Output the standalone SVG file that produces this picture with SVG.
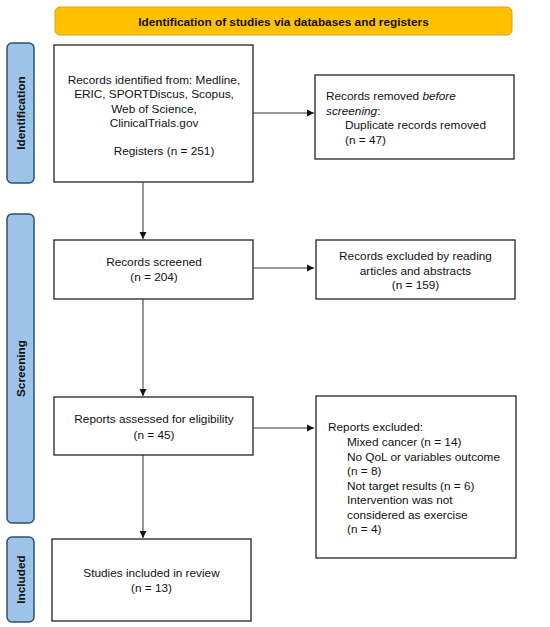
<svg xmlns="http://www.w3.org/2000/svg" width="550" height="627" viewBox="0 0 550 627">
<style>
.box{fill:#fff;stroke:#222;stroke-width:1.3}
.side{fill:#9DC3E6;stroke:#2F4F6F;stroke-width:1.5}
.t{font-family:"Liberation Sans",Arial,sans-serif;font-size:11.8px;fill:#111}
.c{text-anchor:middle}
.b{font-weight:bold}
.ln{stroke:#333;stroke-width:1;fill:none;marker-end:url(#ah)}
</style>
<defs>
<marker id="ah" markerWidth="8" markerHeight="8" refX="7" refY="4" orient="auto" markerUnits="userSpaceOnUse">
<path d="M0,0.5 L7,4 L0,7.5 Z" fill="#111"/>
</marker>
</defs>
<rect width="550" height="627" fill="#fff"/>
<g id="banner">
<rect x="55" y="7" width="457" height="28" rx="5" fill="#FFC000" stroke="#D6A21E" stroke-width="1"/>
<text class="t c b" x="283.5" y="25.5">Identification of studies via databases and registers</text>
</g>
<g id="side-identification">
<rect class="side" x="7" y="43" width="27" height="140" rx="5"/>
<text class="t c b" transform="translate(25,113) rotate(-90)">Identification</text>
</g>
<g id="side-screening">
<rect class="side" x="7" y="214" width="27" height="309" rx="5"/>
<text class="t c b" transform="translate(25,368.5) rotate(-90)">Screening</text>
</g>
<g id="side-included">
<rect class="side" x="7" y="537" width="27" height="85" rx="5"/>
<text class="t c b" transform="translate(25,579.5) rotate(-90)">Included</text>
</g>
<g id="connectors">
<line class="ln" x1="253" y1="113" x2="314" y2="113"/>
<line class="ln" x1="143" y1="182" x2="143" y2="239"/>
<line class="ln" x1="253" y1="268" x2="314" y2="268"/>
<line class="ln" x1="143" y1="299" x2="143" y2="396"/>
<line class="ln" x1="253" y1="428" x2="314" y2="428"/>
<line class="ln" x1="143" y1="455" x2="143" y2="538"/>
</g>
<g id="records-identified">
<rect class="box" x="54" y="45" width="199" height="137"/>
<text class="t c" x="154" y="84">Records identified from: Medline,</text>
<text class="t c" x="154" y="98">ERIC, SPORTDiscus, Scopus,</text>
<text class="t c" x="154" y="112.5">Web of Science,</text>
<text class="t c" x="154" y="126.5">ClinicalTrials.gov</text>
<text class="t c" x="164" y="155">Registers (n = 251)</text>
</g>
<g id="records-removed">
<rect class="box" x="315" y="75" width="199" height="84"/>
<text class="t" x="326" y="100">Records removed <tspan font-style="italic">before</tspan></text>
<text class="t" x="326" y="114.5"><tspan font-style="italic">screening</tspan>:</text>
<text class="t" x="345" y="129">Duplicate records removed</text>
<text class="t" x="345" y="143.5">(n = 47)</text>
</g>
<g id="records-screened">
<rect class="box" x="54" y="240" width="199" height="59"/>
<text class="t c" x="154" y="266">Records screened</text>
<text class="t c" x="154" y="281">(n = 204)</text>
</g>
<g id="records-excluded">
<rect class="box" x="316" y="240" width="199" height="59"/>
<text class="t c" x="415.5" y="260">Records excluded by reading</text>
<text class="t c" x="415.5" y="274.5">articles and abstracts</text>
<text class="t c" x="415.5" y="289">(n = 159)</text>
</g>
<g id="reports-assessed">
<rect class="box" x="54" y="397" width="199" height="58"/>
<text class="t c" x="154" y="423">Reports assessed for eligibility</text>
<text class="t c" x="154" y="439">(n = 45)</text>
</g>
<g id="reports-excluded">
<rect class="box" x="316" y="396" width="200" height="162"/>
<text class="t" x="328" y="431">Reports excluded:</text>
<text class="t" x="347" y="446">Mixed cancer (n = 14)</text>
<text class="t" x="347" y="460.5">No QoL or variables outcome</text>
<text class="t" x="347" y="475">(n = 8)</text>
<text class="t" x="347" y="489.5">Not target results (n = 6)</text>
<text class="t" x="347" y="504">Intervention was not</text>
<text class="t" x="347" y="518.5">considered as exercise</text>
<text class="t" x="347" y="533">(n = 4)</text>
</g>
<g id="studies-included">
<rect class="box" x="52" y="539" width="199" height="82"/>
<text class="t c" x="151.5" y="577">Studies included in review</text>
<text class="t c" x="151.5" y="592">(n = 13)</text>
</g>
</svg>
